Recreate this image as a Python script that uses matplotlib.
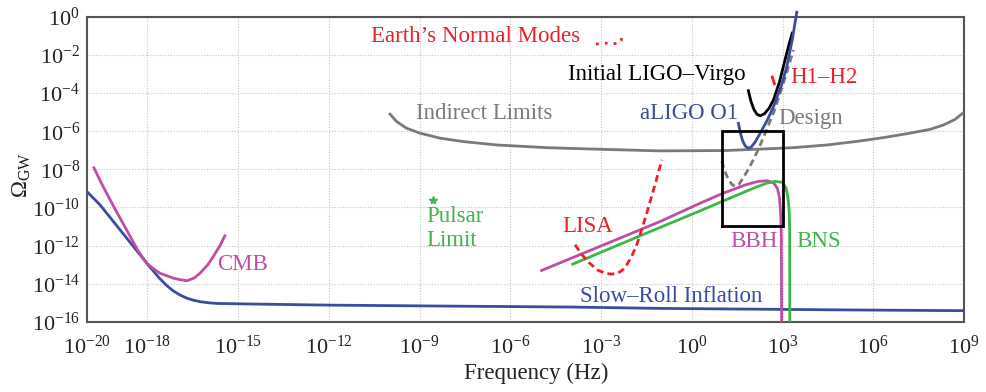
import numpy as np
import matplotlib
matplotlib.use("Agg")
import matplotlib.pyplot as plt
from matplotlib.ticker import FixedLocator, NullLocator

plt.rcParams["font.family"] = ["Liberation Serif", "DejaVu Serif"]
plt.rcParams["mathtext.fontset"] = "custom"
plt.rcParams["mathtext.rm"] = "Liberation Serif"
plt.rcParams["mathtext.it"] = "Liberation Serif:italic"
plt.rcParams["mathtext.bf"] = "Liberation Serif:bold"

# ---- curves: (log10 frequency [Hz], log10 Omega_GW) ----
slow_roll_logf = [-20.0, -19.57, -17.98, -17.59, -17.35, -17.15, -16.92, -16.70, -16.48, -16.26,
                  -15.95, -15.71, -14.61, -11.96, -8.0, -4.0, -1.05, 2.0, 5.0, 9.0]
slow_roll_logo = [-9.17, -9.86, -13.01, -13.74, -14.12, -14.38, -14.60, -14.76, -14.87, -14.95,
                  -15.01, -15.04, -15.07, -15.13, -15.18, -15.23, -15.30, -15.34, -15.38, -15.42]

cmb_logf = [-19.77, -19.5, -19.1, -18.69, -18.3, -18.03, -17.8, -17.59, -17.15, -16.9, -16.69,
            -16.45, -16.26, -16.0, -15.82, -15.6, -15.44]
cmb_logo = [-7.92, -8.8, -10.0, -11.18, -12.3, -12.92, -13.22, -13.45, -13.71, -13.8, -13.85,
            -13.7, -13.45, -13.0, -12.57, -12.0, -11.49]

indirect_logf = [-9.98, -9.76, -9.43, -8.99, -8.33, -7.56, -6.45, -4.80, -3.15, -1.05,
                 1.15, 3.36, 4.46, 5.56, 6.39, 7.21, 7.88, 8.32, 8.70, 8.96]
indirect_logo = [-5.10, -5.49, -5.84, -6.10, -6.36, -6.54, -6.72, -6.86, -6.94, -7.03,
                 -7.01, -6.86, -6.72, -6.51, -6.32, -6.10, -5.90, -5.67, -5.38, -5.05]

ligo_virgo_logf = [1.87, 1.95, 2.05, 2.15, 2.26, 2.40, 2.55, 2.70, 2.90, 3.08, 3.22, 3.32]
ligo_virgo_logo = [-3.87, -4.4, -4.85, -5.1, -5.19, -5.08, -4.8, -4.35, -3.4, -2.26, -1.4, -0.85]

h1h2_logf = [2.66, 2.73]
h1h2_logo = [-3.15, -3.5]

aligo_logf = [1.54, 1.60, 1.68, 1.77, 1.87, 1.97, 2.10, 2.26, 2.50, 2.70, 2.95, 3.14, 3.32, 3.47]
aligo_logo = [-5.58, -6.05, -6.5, -6.78, -6.89, -6.82, -6.55, -6.10, -5.4, -4.71, -3.65, -2.61, -1.2, 0.25]

design_logf = [0.99, 1.08, 1.2, 1.32, 1.43, 1.55, 1.70, 1.92, 2.2, 2.47, 2.72, 2.92, 3.15, 3.36]
design_logo = [-7.56, -8.05, -8.5, -8.78, -8.9, -8.8, -8.45, -7.85, -6.95, -5.93, -4.95, -4.0, -2.85, -1.73]

bbh_logf = [-4.97, -1.05, 0.27, 1.04, 1.8, 2.2, 2.5, 2.7, 2.83, 2.9, 2.94, 2.96, 2.97]
bbh_logo = [-13.31, -10.74, -9.78, -9.25, -8.8, -8.63, -8.6, -8.7, -9.0, -9.5, -10.4, -11.5, -16.5]

bns_logf = [-3.94, -1.05, 0.27, 1.5, 2.1, 2.45, 2.75, 3.0, 3.12, 3.18, 3.22, 3.235, 3.24]
bns_logo = [-12.98, -11.05, -10.18, -9.35, -8.95, -8.74, -8.63, -8.68, -9.0, -9.5, -10.2, -11.2, -16.5]

lisa_logf = [-3.86, -3.65, -3.4, -3.1, -2.85, -2.65, -2.45, -2.3, -2.15, -1.99, -1.82, -1.66, -1.5,
             -1.33, -1.11, -0.99]
lisa_logo = [-11.96, -12.45, -12.9, -13.3, -13.46, -13.5, -13.45, -13.3, -13.0, -12.58, -11.95,
             -11.18, -10.35, -9.43, -8.2, -7.5]

earth_logf = [-3.17, -2.95, -2.75, -2.55, -2.4, -2.33, -2.31]
earth_logo = [-1.42, -1.38, -1.37, -1.39, -1.40, -1.2, -0.84]

pulsar_logf = [-8.55]
pulsar_logo = [-9.6]

# ---- axes ticks ----
xtick_exps = [-20, -18, -15, -12, -9, -6, -3, 0, 3, 6, 9]
ytick_exps = [0, -2, -4, -6, -8, -10, -12, -14, -16]

RED = "#e8212b"
MAGENTA = "#bf4ea3"
GREEN = "#3db549"
BLUE = "#3a4c9e"
GRAY = "#7a7a7a"


def pw(a):
    return np.power(10.0, np.asarray(a, dtype=float))


fig = plt.figure(figsize=(9.86, 3.92), dpi=100)
ax = fig.add_axes([0.0882, 0.1793, 0.8895, 0.7773])
ax.set_xscale("log")
ax.set_yscale("log")
ax.set_xlim(1e-20, 1e9)
ax.set_ylim(1e-16, 1e0)

lw = 2.0
ax.plot(pw(slow_roll_logf), pw(slow_roll_logo), color=BLUE, lw=lw, zorder=3)
ax.plot(pw(cmb_logf), pw(cmb_logo), color=MAGENTA, lw=lw, zorder=3)
ax.plot(pw(indirect_logf), pw(indirect_logo), color=GRAY, lw=lw, zorder=3)
ax.plot(pw(bbh_logf), pw(bbh_logo), color=MAGENTA, lw=lw, zorder=3)
ax.plot(pw(bns_logf), pw(bns_logo), color=GREEN, lw=lw, zorder=3)
ax.plot(pw(lisa_logf), pw(lisa_logo), color=RED, lw=lw, ls=(0, (2.5, 1.5)), zorder=3)
ax.plot(pw(earth_logf), pw(earth_logo), color=RED, lw=lw, ls=(0, (1, 2.2)), zorder=3)
ax.plot(pw(design_logf), pw(design_logo), color=GRAY, lw=lw, ls=(0, (2.5, 1.5)), zorder=3)
ax.plot(pw(h1h2_logf), pw(h1h2_logo), color=RED, lw=lw, zorder=3)
ax.plot(pw(ligo_virgo_logf), pw(ligo_virgo_logo), color="black", lw=lw, zorder=4, clip_on=False)
ax.plot(pw(aligo_logf), pw(aligo_logo), color=BLUE, lw=lw, zorder=5, clip_on=False)
ax.plot(pw(pulsar_logf), pw(pulsar_logo), ls="none", marker="*", ms=6, color=GREEN, zorder=5)

# frequency band of ground-based detectors
ax.plot([1e1, 1e3, 1e3, 1e1, 1e1], [1e-11, 1e-11, 1e-6, 1e-6, 1e-11],
        color="black", lw=2.0, zorder=6, solid_joinstyle="miter")

fs = 16.5
labels = [
    ("Earth\u2019s Normal Modes", -10.62, -1.33, RED),
    ("Initial LIGO\u2013Virgo", -4.08, -3.31, "black"),
    ("H1\u2013H2", 3.25, -3.45, RED),
    ("Indirect Limits", -9.12, -5.35, GRAY),
    ("aLIGO O1", -1.71, -5.33, BLUE),
    ("Design", 2.86, -5.62, GRAY),
    ("CMB", -15.70, -13.31, MAGENTA),
    ("Pulsar", -8.77, -10.74, GREEN),
    ("Limit", -8.77, -12.05, GREEN),
    ("LISA", -4.29, -11.27, RED),
    ("BBH", 1.26, -12.10, MAGENTA),
    ("BNS", 3.45, -12.10, GREEN),
    ("Slow\u2013Roll Inflation", -3.70, -14.99, BLUE),
]
for txt, lx, ly, col in labels:
    ax.text(10.0 ** lx, 10.0 ** ly, txt, color=col, fontsize=fs, ha="left", va="baseline", zorder=7)

ax.xaxis.set_major_locator(FixedLocator([10.0 ** e for e in xtick_exps]))
ax.yaxis.set_major_locator(FixedLocator([10.0 ** e for e in ytick_exps]))
ax.xaxis.set_minor_locator(NullLocator())
ax.yaxis.set_minor_locator(NullLocator())
ax.set_xticklabels([r"$10^{%d}$" % e for e in xtick_exps])
ax.set_yticklabels([r"$10^{%d}$" % e for e in ytick_exps])
ax.tick_params(axis="both", length=0, labelsize=16, colors="#222222")
ax.tick_params(axis="x", pad=10)
ax.tick_params(axis="y", pad=5)

ax.grid(True, which="major", ls=(0, (1, 1.5)), color="#c4c4c4", lw=0.8)
ax.set_axisbelow(True)
for sp in ax.spines.values():
    sp.set_color("#555555")
    sp.set_linewidth(1.5)

ax.set_xlabel("Frequency (Hz)", fontsize=16.5, color="#222222")
ax.xaxis.set_label_coords(0.512, -0.135)
ax.set_ylabel(r"$\Omega_{\rm GW}$", fontsize=16.5, color="#222222")
ax.yaxis.set_label_coords(-0.062, 0.48)

fig.savefig("out.png", dpi=100)
